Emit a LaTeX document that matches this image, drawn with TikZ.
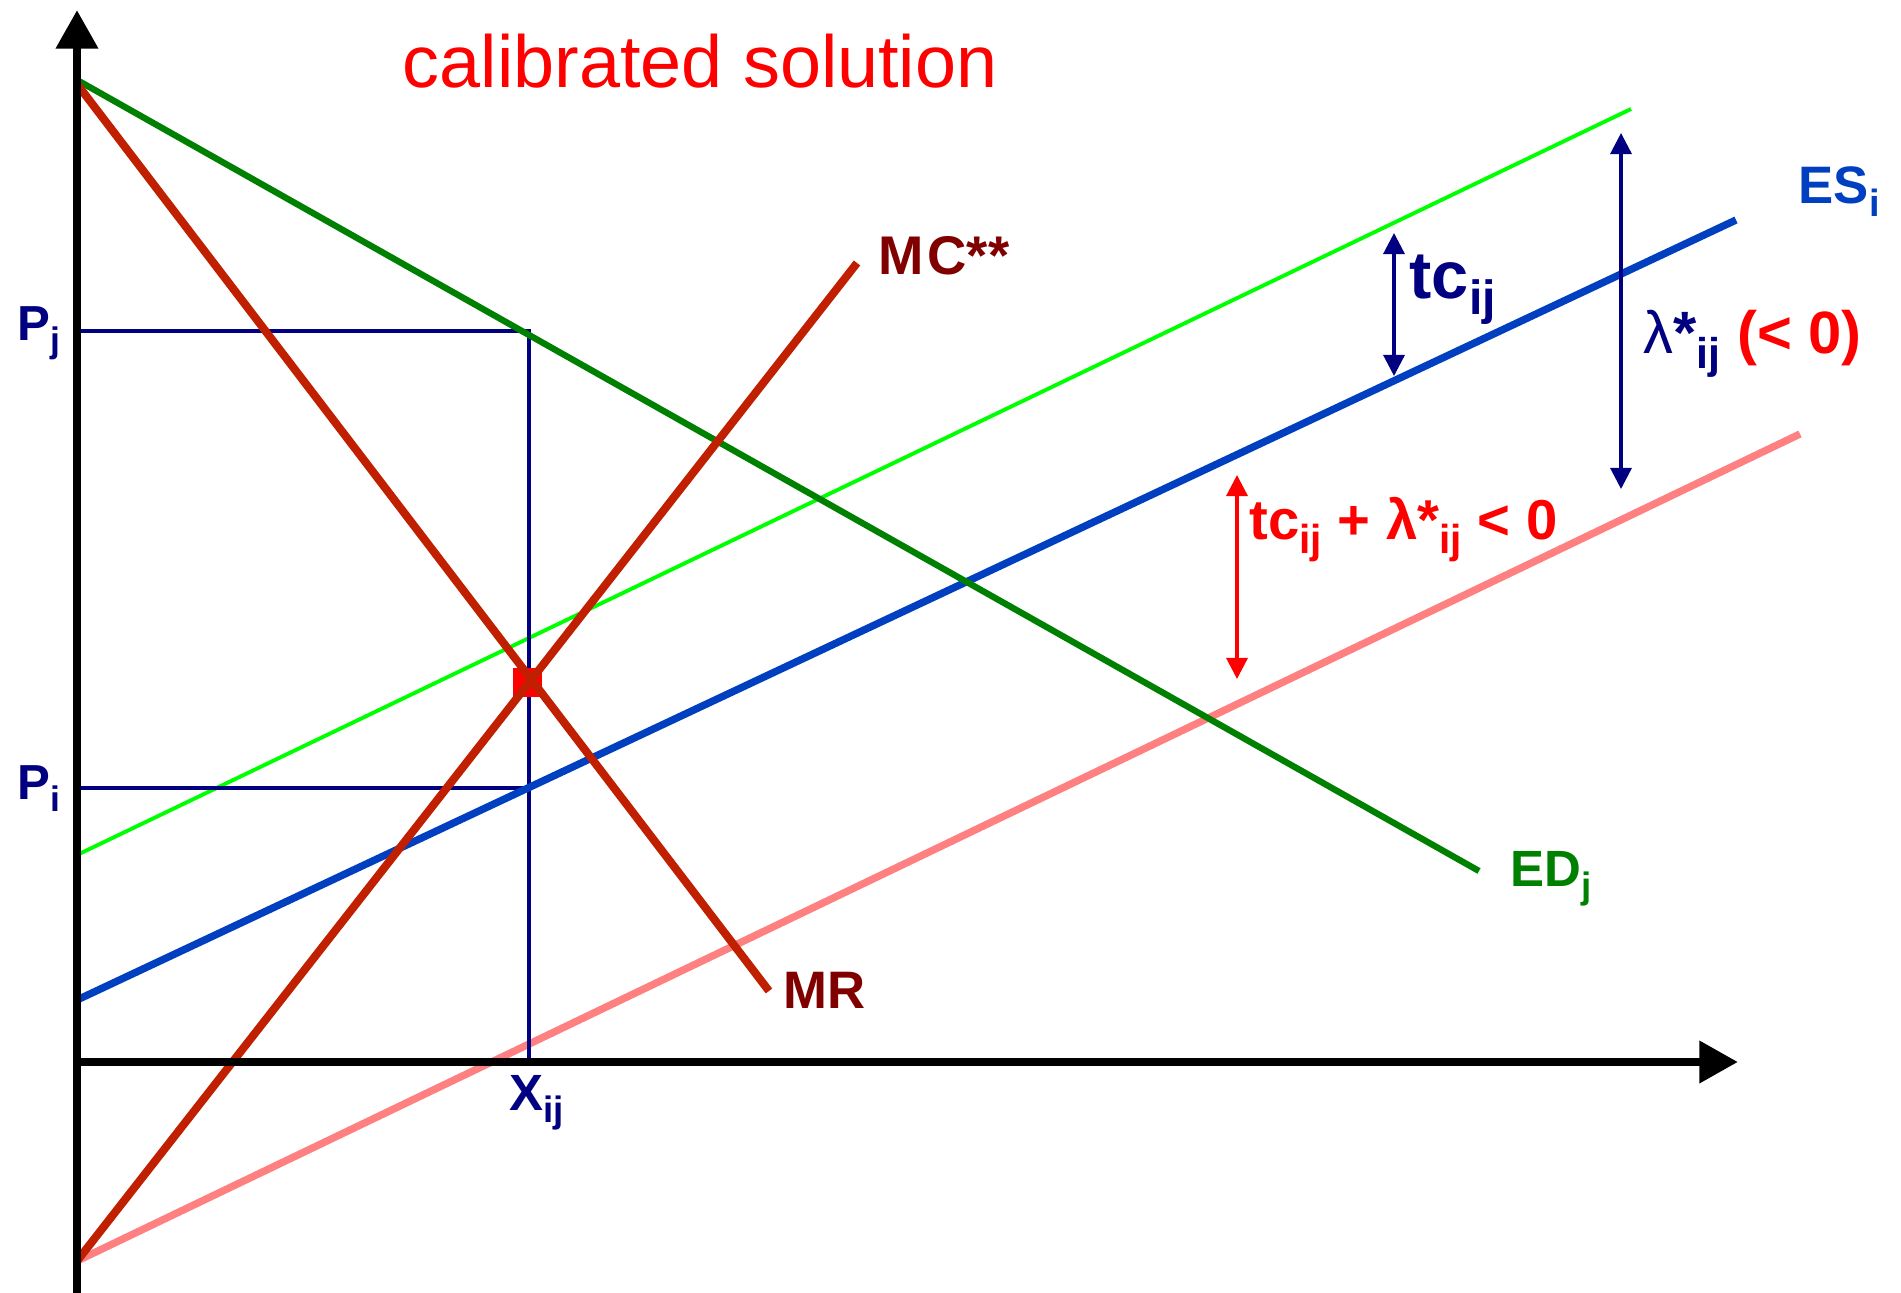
\documentclass[tikz,border=0pt]{standalone}
\usepackage{fontspec}
\setmainfont{Liberation Sans}
\usetikzlibrary{arrows.meta}
\definecolor{navy}{HTML}{000080}
\definecolor{edgreen}{HTML}{008000}
\definecolor{mrred}{HTML}{C02000}
\definecolor{lblred}{HTML}{800000}
\definecolor{lime}{HTML}{00FF00}
\definecolor{esblue}{HTML}{0040C0}
\definecolor{pinkish}{HTML}{FF8080}
\definecolor{pure}{HTML}{FF0000}
\newcommand\lowsub[1]{\raisebox{-0.45ex}{\scalebox{0.72}{#1}}}
\newcommand\fs[1]{\fontsize{#1}{#1}\selectfont}
\begin{document}
\begin{tikzpicture}[x=0.1mm,y=-0.1mm,
  lbl/.style={inner sep=0pt, anchor=base west, font=\bfseries},
  axisline/.style={line width=2.5pt, black, -{Triangle[length=11pt,width=11.5pt]}},
  guide/.style={line width=1pt, navy},
  dbl/.style={line width=0.9pt, {Triangle[length=6pt,width=6pt]}-{Triangle[length=6pt,width=6pt]}}]
\useasboundingbox (0,0) rectangle (1901,1293);
% coordinates
\coordinate (ybot) at (77,1293);
\coordinate (ytop) at (77,10);
\coordinate (O) at (77,1062);
\coordinate (xtip) at (1738,1062);
\coordinate (ed0) at (77,80);   \coordinate (ed1) at (1479,871);
\coordinate (mr0) at (77,84);   \coordinate (mr1) at (769,991);
\coordinate (mc0) at (77,1261); \coordinate (mc1) at (857,263);
\coordinate (lg0) at (77,855);  \coordinate (lg1) at (1631,109);
\coordinate (es0) at (77,1000); \coordinate (es1) at (1736,220);
\coordinate (pk0) at (77,1261); \coordinate (pk1) at (1800,434);
\coordinate (pj0) at (77,331);  \coordinate (pjx) at (529,331);
\coordinate (pi0) at (77,788);  \coordinate (pix) at (529,788);
\coordinate (xb) at (529,1062);
\coordinate (tcA) at (1394,233); \coordinate (tcB) at (1394,376);
\coordinate (laA) at (1621,133); \coordinate (laB) at (1621,489);
\coordinate (rdA) at (1237,475); \coordinate (rdB) at (1237,679);
% curves
\draw[line width=1.1pt, lime] (lg0) -- (lg1);
\draw[line width=2.1pt, pinkish] (pk0) -- (pk1);
\draw[guide] (pj0) -- (pjx) -- (xb);
\draw[guide] (pi0) -- (pix);
\draw[line width=2.1pt, esblue] (es0) -- (es1);
\fill[pure] (512.5,668.5) rectangle (541.5,697.5);
\draw[line width=1.8pt, edgreen] (ed0) -- (ed1);
\draw[line width=2.3pt, mrred] (mr0) -- (mr1);
\draw[line width=2.3pt, mrred] (mc0) -- (mc1);
% axes
\draw[axisline] (ybot) -- (ytop);
\draw[axisline] (O) -- (xtip);
% double arrows
\draw[dbl, navy] (tcA) -- (tcB);
\draw[dbl, navy] (laA) -- (laB);
\draw[dbl, pure] (rdA) -- (rdB);
% labels
\node[lbl, navy, font=\bfseries\fs{14}] (lpj) at (17,341) {P\lowsub{j}};
\node[lbl, navy, font=\bfseries\fs{14}] (lpi) at (17,800) {P\lowsub{i}};
\node[lbl, navy, font=\bfseries\fs{14.5}] (lx) at (509,1110) {X\lowsub{ij}};
\node[lbl, lblred, font=\bfseries\fs{15}] (lmr) at (783,1008) {MR};
\node[lbl, lblred, font=\bfseries\fs{15.5}] (lmc) at (878,275) {M\kern1pt C**};
\node[lbl, edgreen, font=\bfseries\fs{14.5}] (led) at (1510,886) {ED\lowsub{j}};
\node[lbl, esblue, font=\bfseries\fs{15}] (les) at (1798,204) {ES\lowsub{i}};
\node[lbl, navy, font=\bfseries\fs{19}] (ltc) at (1409,299) {tc\lowsub{ij}};
\node[lbl, navy, font=\bfseries\fs{17}] (lla) at (1643,354) {{\mdseries λ}*\lowsub{ij} \textcolor{pure}{(< 0)}};
\node[lbl, pure, font=\bfseries\fs{16}] (leq) at (1249,540) {tc\lowsub{ij} + λ*\lowsub{ij} < 0};
\node[lbl, pure, font=\fs{21}] (title) at (402,88) {calibrated solution};
\end{tikzpicture}
\end{document}
